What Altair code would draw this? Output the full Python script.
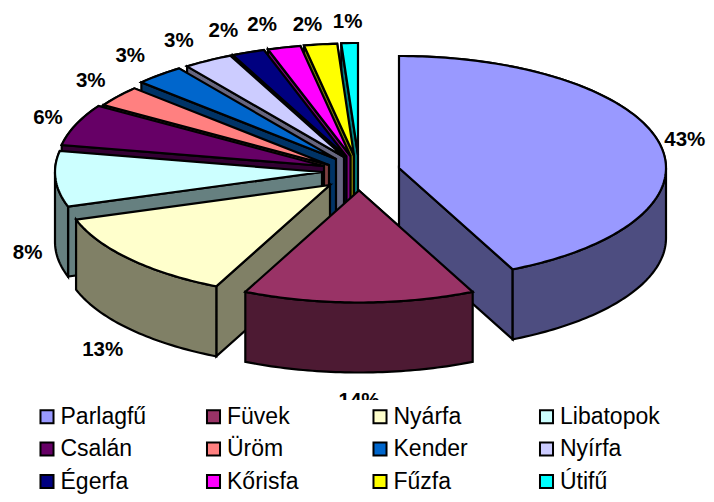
import math
import altair as alt

names = ["Parlagfű", "Füvek", "Nyárfa", "Libatopok", "Csalán", "Üröm", "Kender", "Nyírfa", "Égerfa", "Kőrisfa", "Fűzfa", "Útifű"]
values = [43, 14, 13, 8, 6, 3, 3, 3, 2, 2, 2, 1]
labels = ["43%", "14%", "13%", "8%", "6%", "3%", "3%", "3%", "2%", "2%", "2%", "1%"]
colors = ["#9999FF", "#993366", "#FFFFCC", "#CCFFFF", "#660066", "#FF8080", "#0066CC", "#CCCCFF", "#000080", "#FF00FF", "#FFFF00", "#00FFFF"]
walls = ["#4D4D80", "#4D1A33", "#808066", "#668080", "#330033", "#804040", "#003366", "#666680", "#000040", "#800080", "#808000", "#008080"]
# Where each exploded slice's tip ends up on the page
tips_x = [399, 359, 330, 322, 324, 329, 336, 344, 346.5, 350.5, 354, 358]
tips_y = [168, 190.5, 185, 172, 166, 165, 159, 157, 156.5, 156, 155.5, 155]
label_nudge_x = [-6, 0, -3, 4, 2, -2, -8, -13, -13, -14, -9, -1]
label_nudge_y = [2, 3, 4, 2, 2, 0, 0, 2, 2, 2, 5, 4]

RX, RY, DEPTH = 267, 112, 70
LX, LY = 32, 25
draw_order = [11, 10, 9, 8, 7, 6, 5, 4, 3, 0, 2, 1]


def pt(cx, cy, deg, drop=0):
    r = math.radians(deg)
    return [cx + RX * math.sin(r), cy - RY * math.cos(r) + drop]


def feature(ring, name, fill):
    return {
        "type": "Feature",
        "geometry": {"type": "Polygon", "coordinates": [ring + [ring[0]]]},
        "properties": {"name": name, "fill": fill},
    }


starts = []
total = 0
for v in values:
    starts.append(total)
    total += v

features = []
tops = []
for i in draw_order:
    a0 = starts[i] * 3.6
    a1 = (starts[i] + values[i]) * 3.6
    cx, cy = tips_x[i], tips_y[i]
    steps = max(2, int(a1 - a0))
    arc = [a0 + (a1 - a0) * k / steps for k in range(steps + 1)]
    if math.sin(math.radians(a0)) < 0:
        p = pt(cx, cy, a0)
        q = pt(cx, cy, a0, DEPTH)
        features.append(feature([[cx, cy], p, q, [cx, cy + DEPTH]], names[i], walls[i]))
    if math.sin(math.radians(a1)) > 0:
        p = pt(cx, cy, a1)
        q = pt(cx, cy, a1, DEPTH)
        features.append(feature([[cx, cy], p, q, [cx, cy + DEPTH]], names[i], walls[i]))
    lo, hi = max(a0, 90), min(a1, 270)
    if lo < hi:
        n = max(2, int(hi - lo))
        rim = [lo + (hi - lo) * k / n for k in range(n + 1)]
        ring = [pt(cx, cy, d) for d in rim] + [pt(cx, cy, d, DEPTH) for d in reversed(rim)]
        features.append(feature(ring, names[i], walls[i]))
    top = feature([[cx, cy]] + [pt(cx, cy, d) for d in arc], names[i], colors[i])
    features.append(top)
    tops.append(top)

label_rows = []
for i in range(len(names)):
    mid = (starts[i] + values[i] / 2) * 3.6
    r = math.radians(mid)
    front = DEPTH if 90 < mid < 270 else 0
    label_rows.append({
        "label": labels[i],
        "x": tips_x[i] + (RX + LX) * math.sin(r) + label_nudge_x[i] - 8,
        "y": tips_y[i] - (RY + LY) * math.cos(r) + front + label_nudge_y[i] - 8,
    })

proj = dict(type="identity", scale=1, translate=[-8, -8])
W, H = 698, 486

legend_layer = alt.Chart(alt.Data(values=tops)).mark_geoshape(stroke="black", strokeWidth=2).encode(
    fill=alt.Fill(
        "properties.name:N",
        scale=alt.Scale(domain=names, range=colors),
        sort=None,
        legend=alt.Legend(
            title=None,
            orient="none",
            direction="horizontal",
            legendX=22.5,
            legendY=392,
            columns=4,
            gridAlign="all",
            columnPadding=41.5,
            rowPadding=8.5,
            padding=5,
            fillColor="white",
            symbolType="square",
            symbolSize=170,
            symbolStrokeColor="black",
            symbolStrokeWidth=2,
            labelFont="Liberation Sans",
            labelFontSize=23,
            labelColor="black",
            labelOffset=2,
        ),
    )
).project(**proj)

pie_layer = alt.Chart(alt.Data(values=features)).mark_geoshape(stroke="black", strokeWidth=2.2).encode(
    fill=alt.Fill("properties.fill:N", scale=None)
).project(**proj)

text_layer = alt.Chart(alt.Data(values=label_rows)).mark_text(
    font="Liberation Sans", fontSize=20.5, fontWeight="bold", color="black"
).encode(
    x=alt.X("x:Q", scale=alt.Scale(domain=[0, W], range=[0, W]), axis=None),
    y=alt.Y("y:Q", scale=alt.Scale(domain=[0, H], range=[0, H]), axis=None),
    text="label:N",
)

chart = alt.layer(legend_layer, pie_layer, text_layer).properties(
    width=W, height=H, padding=0, autosize=alt.AutoSizeParams(type="none"), background="white"
).resolve_scale(fill="independent").configure_view(stroke=None)

chart.save("out.html", embed_options={"renderer": "svg", "actions": False})
